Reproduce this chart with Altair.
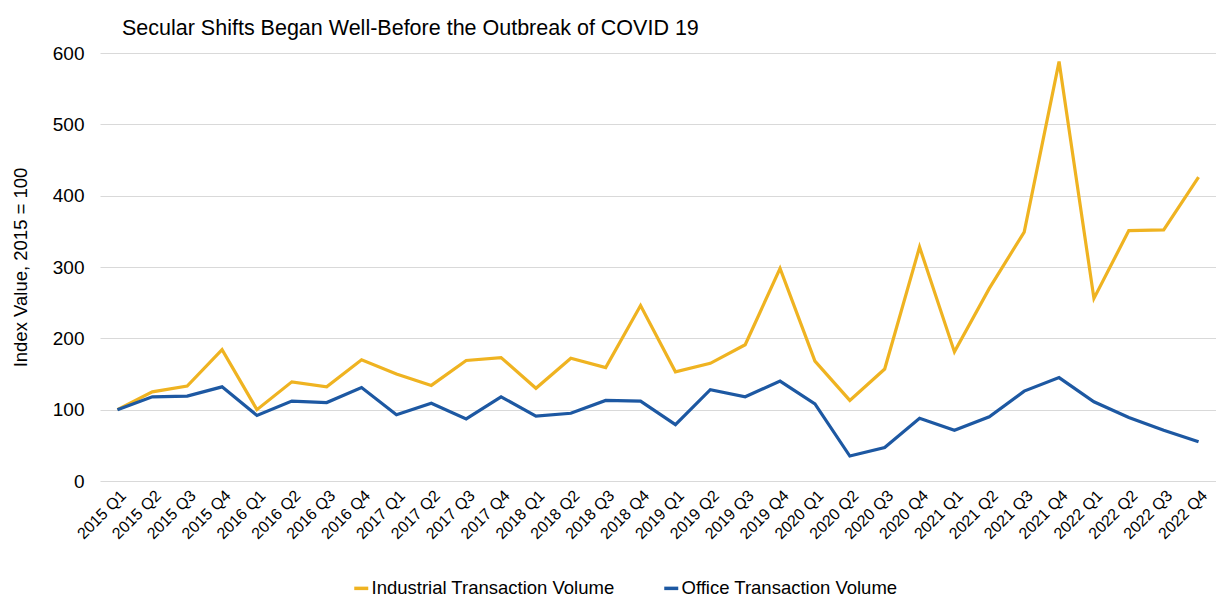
import altair as alt
import pandas as pd

quarters = [f"{y} Q{q}" for y in range(2015, 2023) for q in range(1, 5)]
industrial = [100, 125, 133, 184, 100, 139, 132, 170, 150, 134, 169, 173, 130, 172, 159, 246,
              153, 165, 191, 298, 168, 113, 157, 328, 181, 270, 349, 588, 256, 351, 352, 426]
office = [100, 118, 119, 132, 92, 112, 110, 131, 93, 109, 87, 118, 91, 95, 113, 112,
          79, 128, 118, 140, 108, 35, 47, 88, 71, 90, 126, 145, 111, 89, 71, 55]

series_names = ["Industrial Transaction Volume", "Office Transaction Volume"]
series_colors = ["#EFB321", "#1D58A2"]

rows = []
for i, qt in enumerate(quarters):
    rows.append({"quarter": qt, "value": industrial[i], "series": series_names[0]})
    rows.append({"quarter": qt, "value": office[i], "series": series_names[1]})
df = pd.DataFrame(rows)

font = "Liberation Sans"

chart = alt.Chart(df).mark_line(strokeWidth=3.2).encode(
    x=alt.X("quarter:N", sort=quarters, title=None,
            scale=alt.Scale(type="point", padding=0.5),
            axis=alt.Axis(labelAngle=315, labelFontSize=16, labelColor="#000000",
                          labelFont=font, ticks=False, domain=False, grid=False,
                          labelPadding=6)),
    y=alt.Y("value:Q", title="Index Value, 2015 = 100",
            scale=alt.Scale(domain=[0, 600]),
            axis=alt.Axis(values=[0, 100, 200, 300, 400, 500, 600], labelFontSize=19,
                          labelColor="#000000", labelFont=font, ticks=False, domain=False,
                          gridColor="#D9D9D9", gridWidth=1.2, labelPadding=16,
                          titleFontSize=18.5, titleFont=font, titleFontWeight="normal",
                          titleColor="#000000", titlePadding=22)),
    color=alt.Color("series:N", scale=alt.Scale(domain=series_names, range=series_colors),
                    legend=alt.Legend(title=None, orient="none", legendX=252, legendY=526,
                                      direction="horizontal", symbolType="stroke",
                                      symbolSize=196, symbolStrokeWidth=3.5,
                                      labelFontSize=18.5, labelFont=font, labelColor="#000000",
                                      labelLimit=0, columnPadding=42, labelOffset=1)),
).properties(
    width=1116,
    height=428,
    title=alt.TitleParams("Secular Shifts Began Well-Before the Outbreak of COVID  19",
                          anchor="start", frame="group", dx=22, fontSize=21.5, font=font,
                          fontWeight="normal", color="#000000", offset=5),
    autosize=alt.AutoSizeParams(type="none"),
    padding={"left": 100, "top": 53, "right": 0, "bottom": 117},
).configure_view(stroke=None)

chart.save("out.html", embed_options={"renderer": "svg", "actions": False})
